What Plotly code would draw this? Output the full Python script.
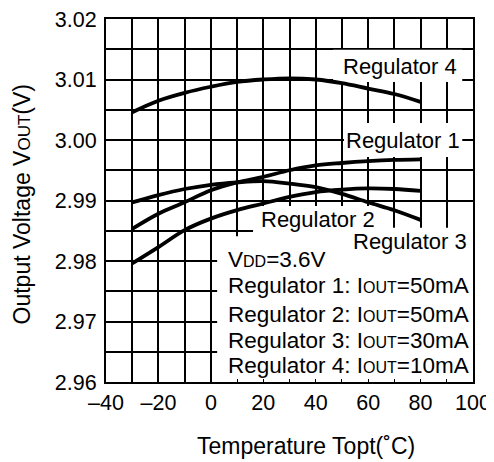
import plotly.graph_objects as go

temps = [-30, -20, -10, 0, 10, 20, 30, 40, 50, 60, 70, 80]
reg1 = [2.9853, 2.9878, 2.9897, 2.9917, 2.9930, 2.9939, 2.9950, 2.9958, 2.9962, 2.9965, 2.9967, 2.9968]
reg2 = [2.9796, 2.9823, 2.9851, 2.9870, 2.9884, 2.9895, 2.9906, 2.9914, 2.9918, 2.9920, 2.9919, 2.9916]
reg3 = [2.9897, 2.9909, 2.9919, 2.9926, 2.9930, 2.9932, 2.9928, 2.9922, 2.9911, 2.9897, 2.9884, 2.9868]
reg4 = [3.0046, 3.0065, 3.0078, 3.0088, 3.0096, 3.0100, 3.0102, 3.0100, 3.0094, 3.0085, 3.0076, 3.0063]

x_ticks = [-40, -30, -20, -10, 0, 10, 20, 30, 40, 50, 60, 70, 80, 90, 100]
x_labels = ["–40", "", "–20", "", "0", "", "20", "", "40", "", "60", "", "80", "", "100"]
y_ticks = [2.96, 2.965, 2.97, 2.975, 2.98, 2.985, 2.99, 2.995, 3.00, 3.005, 3.01, 3.015, 3.02]
y_labels = ["2.96", "", "2.97", "", "2.98", "", "2.99", "", "3.00", "", "3.01", "", "3.02"]

FONT = "Liberation Sans, Arial, sans-serif"


def sc(t, size):
    return '<span style="font-size:%dpx">%s</span>' % (size, t)


fig = go.Figure()
for ys in (reg1, reg2, reg3, reg4):
    fig.add_trace(go.Scatter(x=temps, y=ys, mode="lines",
                             line=dict(color="black", width=3.8, shape="spline"),
                             showlegend=False, hoverinfo="skip"))

# white label backgrounds (between gridlines and traces)
boxes = [
    (46.6, 95.9, 3.0096, 3.0149),
    (50.8, 95.9, 2.9972, 3.0028),
    (16.1, 68.4, 2.9835, 2.9891),
    (51.2, 100, 2.9818, 2.9855),
    (2.4, 100, 2.96, 2.9841),
]
for x0, x1, y0, y1 in boxes:
    fig.add_shape(type="rect", xref="x", yref="y", x0=x0, x1=x1, y0=y0, y1=y1,
                  fillcolor="white", line=dict(width=0), layer="between")

labels = [
    ("Regulator 4", 72.2, 3.0122),
    ("Regulator 1", 73.2, 3.0000),
    ("Regulator 2", 40.7, 2.9869),
    ("Regulator 3", 75.8, 2.9832),
]
for t, x, y in labels:
    fig.add_annotation(text=t, x=x, y=y, xref="x", yref="y", showarrow=False,
                       xanchor="center", yanchor="middle",
                       font=dict(family=FONT, size=22, color="black"))

legend_lines = [
    "V" + sc("DD", 16) + "=3.6V",
    "Regulator 1: I" + sc("OUT", 16) + "=50mA",
    "Regulator 2: I" + sc("OUT", 16) + "=50mA",
    "Regulator 3: I" + sc("OUT", 16) + "=30mA",
    "Regulator 4: I" + sc("OUT", 16) + "=10mA",
]
legend_y = [2.9803, 2.9760, 2.9712, 2.9669, 2.9627]
for t, y in zip(legend_lines, legend_y):
    fig.add_annotation(text=t, x=5.8, y=y, xref="x", yref="y", showarrow=False,
                       xanchor="left", yanchor="middle",
                       font=dict(family=FONT, size=22.5, color="black"))

fig.add_annotation(text="Temperature Topt(˚C)", x=0.546, y=-0.1755, xref="paper", yref="paper",
                   showarrow=False, xanchor="center", yanchor="middle",
                   font=dict(family=FONT, size=23, color="black"))
fig.add_annotation(text="Output Voltage V" + sc("OUT", 17) + "(V)", x=-0.228, y=0.49,
                   xref="paper", yref="paper", showarrow=False, textangle=-90,
                   xanchor="center", yanchor="middle",
                   font=dict(family=FONT, size=23, color="black"))

# page body has an 8px default margin, so the figure is offset by (8, 8)
fig.update_layout(
    width=486, height=454,
    margin=dict(l=98, r=21, t=11, b=80, autoexpand=False),
    paper_bgcolor="white", plot_bgcolor="white",
    font=dict(family=FONT, size=21, color="black"),
    xaxis=dict(range=[-40, 100], tickmode="array", tickvals=x_ticks, ticktext=x_labels,
               showgrid=True, gridcolor="black", gridwidth=1.7,
               showline=True, linecolor="black", linewidth=2, mirror=True,
               ticks="inside", ticklen=3, tickcolor="black", tickwidth=1.3,
               zeroline=False, tickfont=dict(size=21.5), automargin=False,
               ticklabeloverflow="allow"),
    yaxis=dict(range=[2.96, 3.02], tickmode="array", tickvals=y_ticks, ticktext=y_labels,
               showgrid=True, gridcolor="black", gridwidth=1.7,
               showline=True, linecolor="black", linewidth=2, mirror=True,
               ticks="", zeroline=False, tickfont=dict(size=21.5), automargin=False,
               ticklabelstandoff=3, ticklabeloverflow="allow"),
)

fig.write_html("out.html")
